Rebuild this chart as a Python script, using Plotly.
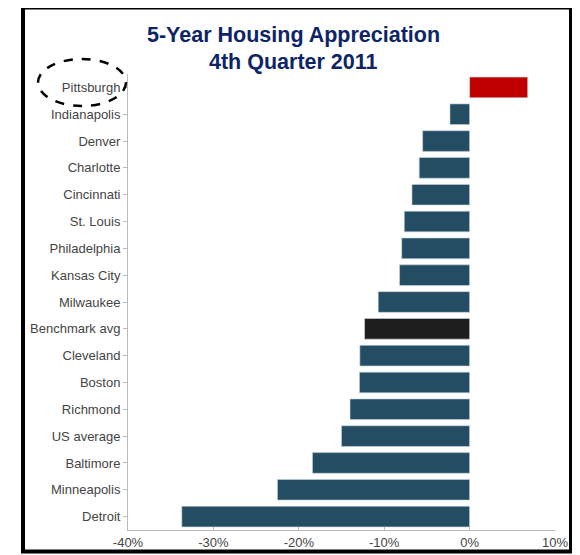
import plotly.graph_objects as go

cities = ["Pittsburgh", "Indianapolis", "Denver", "Charlotte", "Cincinnati", "St. Louis",
          "Philadelphia", "Kansas City", "Milwaukee", "Benchmark avg", "Cleveland", "Boston",
          "Richmond", "US average", "Baltimore", "Minneapolis", "Detroit"]
appreciation = [6.8, -2.3, -5.5, -5.9, -6.75, -7.65, -7.95, -8.2, -10.7, -12.3, -12.85,
                -12.9, -14.0, -15.0, -18.4, -22.5, -33.7]
tick_vals = [-40, -30, -20, -10, 0, 10]
tick_text = ["-40%", "-30%", "-20%", "-10%", "0%", "10%"]

def color_for(c):
    if c == "Pittsburgh":
        return "#c00000"
    if c == "Benchmark avg":
        return "#1e1e1e"
    return "#244c62"

colors = [color_for(c) for c in cities]

# page body has an 8px margin; work in window pixels and shift
OFF = 8
W, H = 580 - OFF, 555 - OFF
L, R, T, B = 128 - OFF, 25, 74 - OFF, 25
pw, ph = W - L - R, H - T - B

def px(x):
    return (x - OFF - L) / pw

def py(y):
    return (H - B - (y - OFF)) / ph

fig = go.Figure(go.Bar(
    x=appreciation, y=cities, orientation="h",
    marker=dict(color=colors, line=dict(color="rgba(200,215,225,0.6)", width=1)),
    width=0.77,
))

fig.update_layout(
    width=W, height=H,
    margin=dict(l=L, r=R, t=T, b=B, autoexpand=False),
    paper_bgcolor="white", plot_bgcolor="white",
    showlegend=False,
    font=dict(family="Liberation Sans, Arial, sans-serif", size=13, color="#444"),
    xaxis=dict(range=[-40, 10], tickvals=tick_vals, ticktext=tick_text, automargin=False,
               showgrid=False, zeroline=False, showline=True, linecolor="#bbbbbb",
               linewidth=1, ticks="inside", ticklen=3, tickcolor="#bbbbbb",
               tickfont=dict(size=13, color="#444")),
    yaxis=dict(categoryorder="array", categoryarray=cities, autorange="reversed",
               automargin=False,
               showgrid=False, zeroline=False, showline=True, linecolor="#bbbbbb",
               linewidth=1, ticks="outside", ticklen=4, tickcolor="#bbbbbb",
               tickfont=dict(size=13, color="#444")),
    annotations=[
        dict(text="<b>5-Year Housing Appreciation</b>", xref="paper", yref="paper",
             x=px(293), y=py(35), xanchor="center", yanchor="middle", showarrow=False,
             font=dict(size=21.5, color="#0d2566", family="Liberation Sans, Arial, sans-serif")),
        dict(text="<b>4th Quarter 2011</b>", xref="paper", yref="paper",
             x=px(293), y=py(62), xanchor="center", yanchor="middle", showarrow=False,
             font=dict(size=21.5, color="#0d2566", family="Liberation Sans, Arial, sans-serif")),
    ],
    shapes=[
        dict(type="rect", xref="paper", yref="paper",
             x0=px(23), x1=px(571), y0=py(551.5), y1=py(7.5),
             line=dict(color="black", width=4), fillcolor="rgba(0,0,0,0)"),
        dict(type="circle", xref="paper", yref="paper",
             x0=px(38), x1=px(126), y0=py(106), y1=py(59),
             line=dict(color="black", width=2.5, dash="dash"), fillcolor="rgba(0,0,0,0)"),
    ],
)

fig.write_html("out.html")
